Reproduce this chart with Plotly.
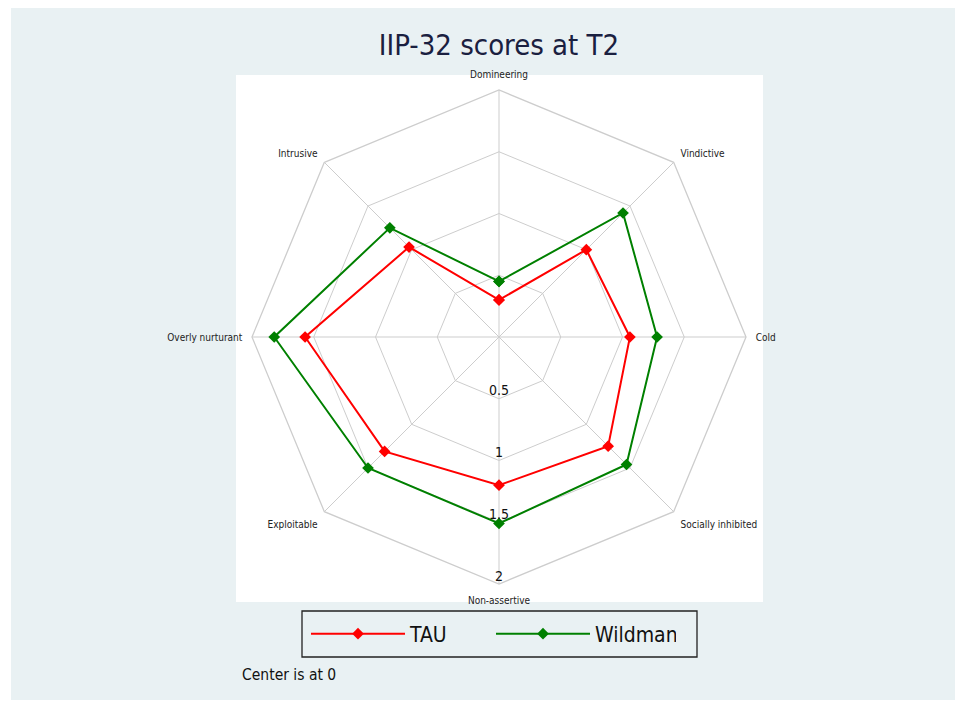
import plotly.graph_objects as go

categories = ["Domineering", "Vindictive", "Cold", "Socially inhibited",
              "Non-assertive", "Exploitable", "Overly nurturant", "Intrusive"]
tau = [0.30, 1.00, 1.06, 1.25, 1.20, 1.31, 1.57, 1.03]
wildman = [0.45, 1.42, 1.28, 1.46, 1.51, 1.50, 1.82, 1.25]
radial_ticks = [0.5, 1, 1.5, 2]
radial_tick_labels = ["0.5", "1", "1.5", "2"]

# page body has an 8px margin; lay out in window pixel coordinates
OFF = 8
W, H = 963 - OFF, 705 - OFF

FONT = "DejaVu Sans Condensed, Liberation Sans Narrow, Arial Narrow, sans-serif"

def px_x(x):
    return (x - OFF) / W

def px_y(y):
    return 1 - (y - OFF) / H

def closed(v):
    return list(v) + [v[0]]

fig = go.Figure()
fig.add_trace(go.Scatterpolar(
    r=closed(tau), theta=closed(categories), name="TAU",
    mode="lines+markers",
    line=dict(color="#FF0000", width=2),
    marker=dict(symbol="diamond", size=9, color="#FF0000"),
))
fig.add_trace(go.Scatterpolar(
    r=closed(wildman), theta=closed(categories), name="Wildman",
    mode="lines+markers",
    line=dict(color="#008000", width=2),
    marker=dict(symbol="diamond", size=9, color="#008000"),
))
fig.add_trace(go.Scatterpolar(
    r=radial_ticks, theta=["Non-assertive"] * len(radial_ticks),
    mode="text", text=radial_tick_labels, textposition="top center",
    textfont=dict(family=FONT, size=14, color="#111111"),
    showlegend=False, hoverinfo="skip",
))

cx, cy, R = 499, 337, 247
grid = "#CDCDCD"
fig.update_layout(
    width=W, height=H,
    margin=dict(l=0, r=0, t=0, b=0, autoexpand=False),
    paper_bgcolor="white",
    title=dict(text="IIP-32 scores at T2", x=px_x(499), xanchor="center",
               y=px_y(45), yanchor="middle",
               font=dict(family=FONT, size=29, color="#1a2040")),
    polar=dict(
        domain=dict(x=[px_x(cx - R), px_x(cx + R)], y=[px_y(cy + R), px_y(cy - R)]),
        bgcolor="white",
        gridshape="linear",
        radialaxis=dict(range=[0, 2], tickvals=radial_ticks, showticklabels=False,
                        ticks="", showline=False, gridcolor=grid, gridwidth=1.3),
        angularaxis=dict(categoryorder="array", categoryarray=categories,
                         direction="clockwise", rotation=90,
                         ticks="outside", ticklen=7, tickcolor="rgba(0,0,0,0)",
                         showline=True, linecolor=grid, linewidth=1.3,
                         gridcolor=grid, gridwidth=1.3,
                         tickfont=dict(family=FONT, size=10, color="#222222")),
    ),
    showlegend=True,
    legend=dict(orientation="h", x=px_x(306), xanchor="left",
                y=px_y(634), yanchor="middle",
                bgcolor="rgba(0,0,0,0)", borderwidth=0,
                itemwidth=94,
                entrywidth=76, entrywidthmode="pixels",
                font=dict(family=FONT, size=21, color="#111111")),
    shapes=[
        dict(type="rect", xref="paper", yref="paper", layer="below",
             x0=px_x(11), x1=px_x(956), y0=px_y(700), y1=px_y(6),
             fillcolor="#E9F1F3", line=dict(width=0)),
        dict(type="rect", xref="paper", yref="paper", layer="below",
             x0=px_x(236), x1=px_x(763), y0=px_y(602), y1=px_y(75),
             fillcolor="white", line=dict(width=0)),
        dict(type="rect", xref="paper", yref="paper", layer="above",
             x0=px_x(302), x1=px_x(697), y0=px_y(657), y1=px_y(611),
             fillcolor="rgba(0,0,0,0)", line=dict(color="#222222", width=1.3)),
    ],
    annotations=[
        dict(text="Center is at 0", xref="paper", yref="paper",
             x=px_x(240), y=px_y(675), xanchor="left", yanchor="middle",
             showarrow=False, font=dict(family=FONT, size=15.5, color="#111111")),
    ],
)

fig.write_html("out.html")
